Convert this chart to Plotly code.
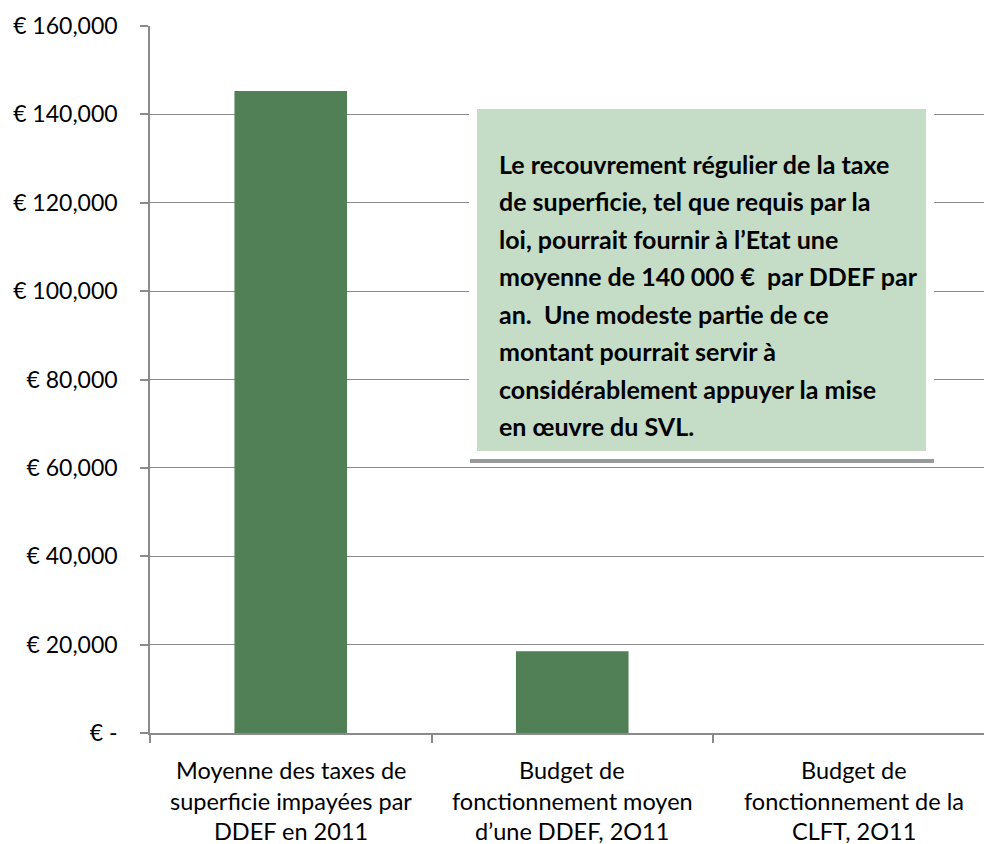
import plotly.graph_objects as go

categories = ["cat1", "cat2", "cat3"]
category_lines = [
    ["Moyenne des taxes de", "superficie impayées par", "DDEF en 2011"],
    ["Budget de", "fonctionnement moyen", "d’une DDEF, 2O11"],
    ["Budget de", "fonctionnement de la", "CLFT, 2O11"],
]
values = [145300, 18500, 0]
tick_vals = [0, 20000, 40000, 60000, 80000, 100000, 120000, 140000, 160000]
tick_text = ["€ -", "€ 20,000", "€ 40,000", "€ 60,000", "€ 80,000",
             "€ 100,000", "€ 120,000", "€ 140,000", "€ 160,000"]
box_lines = [
    "Le recouvrement régulier de la taxe",
    "de superficie, tel que requis par la",
    "loi, pourrait fournir à l’Etat une",
    "moyenne de 140 000 €\u00a0 par DDEF par",
    "an.\u00a0 Une modeste partie de ce",
    "montant pourrait servir à",
    "considérablement appuyer la mise",
    "en œuvre du SVL.",
]

W, H = 984, 844
L, R, T, B = 150, 984, 26, 733
FONT = "Lato"
GRID = "#8a8a8a"


def fx(p):
    return (p - L) / (R - L)


def fy(p):
    return (B - p) / (B - T)


fig = go.Figure()
fig.add_trace(go.Bar(x=categories, y=values, marker=dict(color="#517F56", line=dict(width=0)),
                     width=0.40, hoverinfo="skip"))

shapes = [
    dict(type="rect", xref="paper", yref="paper", x0=fx(469), x1=fx(934), y0=fy(459), y1=fy(100),
         fillcolor="white", line=dict(width=0), layer="above"),
    dict(type="rect", xref="paper", yref="paper", x0=fx(470), x1=fx(934), y0=fy(463), y1=fy(459),
         fillcolor="#9a9a9a", line=dict(width=0), layer="above"),
    dict(type="rect", xref="paper", yref="paper", x0=fx(477), x1=fx(926), y0=fy(451), y1=fy(109),
         fillcolor="#C5DCC6", line=dict(width=0), layer="above"),
]

annotations = []
line_y = [163.5, 201, 238.5, 276, 313.5, 351, 388.5, 426]
for txt, yy in zip(box_lines, line_y):
    annotations.append(dict(text="<b>" + txt + "</b>", xref="paper", yref="paper",
                            x=fx(497), y=fy(yy), xanchor="left", yanchor="middle",
                            showarrow=False, font=dict(family=FONT, size=25, color="#000000")))

cat_y = [770, 801, 831]
for cat, lines in zip(categories, category_lines):
    for txt, yy in zip(lines, cat_y):
        annotations.append(dict(text=txt, xref="x", yref="paper", x=cat, y=fy(yy),
                                xanchor="center", yanchor="middle", showarrow=False,
                                font=dict(family=FONT, size=23.5, color="#000000")))

fig.update_layout(
    width=W, height=H,
    margin=dict(l=L, r=W - R, t=T, b=H - B, pad=0),
    paper_bgcolor="white", plot_bgcolor="white",
    showlegend=False,
    bargap=0.6,
    shapes=shapes,
    annotations=annotations,
    font=dict(family=FONT, color="#000000"),
)
fig.update_xaxes(
    type="category", range=[-0.5, -0.5 + (R - L) / 281.5],
    showticklabels=False, tickson="boundaries", ticks="outside", ticklen=8,
    tickcolor=GRID, tickwidth=1.5,
    showline=True, linecolor=GRID, linewidth=1.5, showgrid=False, zeroline=False,
)
fig.update_yaxes(
    range=[0, 160000], tickvals=tick_vals, ticktext=tick_text,
    ticks="outside", ticklen=8, tickcolor=GRID, tickwidth=1.5,
    showline=True, linecolor=GRID, linewidth=1.5,
    showgrid=True, gridcolor=GRID, gridwidth=1, zeroline=False,
    tickfont=dict(family=FONT, size=23, color="#000000"),
    ticklabelstandoff=18,
)

fig.write_html(
    "out.html",
    config={"displayModeBar": False},
    post_script="document.body.style.margin='0';document.body.style.overflow='hidden';",
)
